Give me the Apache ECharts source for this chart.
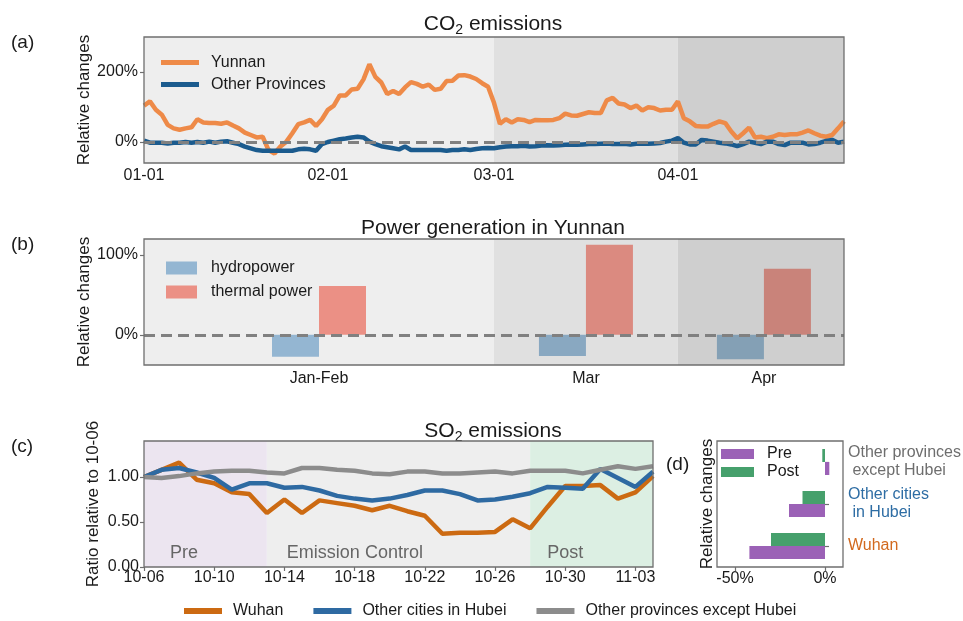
<!DOCTYPE html>
<html><head><meta charset="utf-8">
<script src="https://cdn.jsdelivr.net/npm/echarts@6/dist/echarts.min.js"></script>
<style>html,body{margin:0;padding:0;background:#fff}#c{width:963px;height:621px}</style>
</head><body><div id="c"></div>
<script>
// ---------- Panel (a): CO2 emissions, relative changes (%) by day since 01-01 ----------
const co2TickDays = [0, 31, 59, 90];
const co2TickLabels = ['01-01', '02-01', '03-01', '04-01'];
const co2PhaseBounds = [0, 59, 90, 118];
const co2Yunnan = [104,116,92,78,49,39,35,39,42,65,56,54,54,52,56,47,39,27,20,13,
  15,-23,-33,-13,1,25,51,56,63,46,65,92,104,133,133,150,152,179,222,186,
  170,137,146,137,156,171,166,158,164,149,152,174,175,190,191,187,180,168,158,112,
  52,65,56,65,63,57,63,62,62,63,68,81,76,75,80,85,83,83,119,126,
  110,107,97,104,90,99,97,90,92,92,116,68,59,46,44,44,52,59,54,30,
  11,25,41,13,15,11,15,22,20,22,22,27,33,25,18,15,20,39,59];
const co2Other = [4,-2,-2,-2,-4,-2,-2,0,-2,0,-2,1,-2,1,2,-2,-6,-13,-18,-23,
  -25,-25,-25,-25,-25,-25,-21,-19,-21,-25,-6,0,4,8,10,13,15,13,1,-6,
  -12,-15,-18,-21,-13,-23,-23,-23,-23,-23,-23,-25,-23,-23,-21,-23,-20,-18,-17,-18,
  -15,-13,-12,-12,-11,-13,-12,-10,-9,-10,-9,-8,-7,-8,-7,-6,-6,-5,-4,-6,
  -6,-5,-7,-5,-4,-5,-4,-3,1,4,11,-2,-7,-7,6,4,1,-2,-4,-7,
  -12,-6,1,-2,-6,1,1,-6,-9,-2,-2,-2,-7,-6,-2,3,6,-2,1];

// ---------- Panel (b): power generation in Yunnan (%) ----------
const powerMonths = ['Jan-Feb', 'Mar', 'Apr'];
const powerMonthMid = [29.5, 74.5, 104.5];
const hydroChange = [-27.4, -26.5, -30.6];
const thermalChange = [61, 112.6, 82.7];

// ---------- Panel (c): SO2 emissions ratio relative to 10-06 ----------
const so2Dates = ['10-06','10-07','10-08','10-09','10-10','10-11','10-12','10-13','10-14','10-15',
  '10-16','10-17','10-18','10-19','10-20','10-21','10-22','10-23','10-24','10-25',
  '10-26','10-27','10-28','10-29','10-30','10-31','11-01','11-02','11-03','11-04'];
const so2Wuhan = [1.00,1.08,1.16,0.97,0.93,0.83,0.81,0.60,0.75,0.60,
  0.74,0.71,0.68,0.63,0.68,0.62,0.57,0.37,0.38,0.38,
  0.39,0.53,0.43,0.67,0.90,0.90,0.91,0.76,0.83,1.01];
const so2HubeiOther = [1.00,1.08,1.10,1.05,0.99,0.86,0.93,0.93,0.88,0.89,
  0.85,0.79,0.76,0.74,0.76,0.80,0.85,0.85,0.81,0.74,
  0.75,0.78,0.82,0.89,0.88,0.87,1.09,0.99,0.89,1.06];
const so2OtherProv = [1.00,0.99,1.01,1.04,1.06,1.07,1.07,1.05,1.04,1.10,
  1.10,1.08,1.07,1.04,1.03,1.06,1.06,1.04,1.04,1.05,
  1.06,1.04,1.07,1.07,1.07,1.04,1.08,1.12,1.09,1.12];
const so2PhaseBounds = [0, 7, 22, 29];
const so2PhaseNames = ['Pre', 'Emission Control', 'Post'];

// ---------- Panel (d): relative changes (%) ----------
const dCategories = ['Wuhan', 'Other cities\n in Hubei', 'Other provinces\n except Hubei'];
const dPre = [-42, -20, 2.4];
const dPost = [-30, -12.5, -1.5];

// ---------- styles ----------
const FONT = 'Liberation Sans, Arial, Helvetica, sans-serif';
const TX = '#1a1a1a';
const AX = '#6f6f6f';
const co2BgColors = ['#eeeeee', '#e0e0e0', '#cfcfcf'];
const so2BgColors = ['#ece5f0', '#eeeeee', '#dcefe3'];
const so2LabelOffsets = [21, 15, 12];
const hydroColors = ['#94b6d2', '#89a8c1', '#84a0b5'];
const thermalColors = ['#eb9085', '#db8a80', '#c9837a'];
const dLabelColors = ['#d2691e', '#2e6da4', '#6e6e6e'];

const chart = echarts.init(document.getElementById('c'));

function gridBox(left, top, width, height) {
  return { left, top, width, height, show: true, borderColor: AX, borderWidth: 1.3,
    backgroundColor: 'transparent', z: 10, outerBoundsMode: 'none', containLabel: false };
}
function baseAxis(extra) {
  return Object.assign({
    axisLine: { show: false },
    splitLine: { show: false },
    nameMoveOverlap: false,
    axisTick: { show: true, length: 4, lineStyle: { color: AX, width: 1.2 } },
    axisLabel: { fontSize: 16, color: TX, fontFamily: FONT },
    nameTextStyle: { fontSize: 17, color: TX, fontFamily: FONT }
  }, extra);
}
function phaseAreas(bounds, colors, names, offsets) {
  const out = [];
  for (let i = 0; i < bounds.length - 1; i++) {
    const first = { xAxis: bounds[i], itemStyle: { color: colors[i] } };
    if (names) {
      first.label = { show: true, position: 'insideBottomLeft', distance: 5,
        offset: [offsets[i], 0], formatter: names[i], fontSize: 18, color: '#666', fontFamily: FONT };
    }
    out.push([first, { xAxis: bounds[i + 1] }]);
  }
  return out;
}
const zeroLine = {
  silent: true, symbol: ['none', 'none'], label: { show: false },
  lineStyle: { color: '#808080', width: 2.8, type: [11, 6] },
  data: [{ yAxis: 0 }], animation: false
};
const xy = arr => arr.map((v, i) => [i, v]);

const option = {
  animation: false,
  textStyle: { fontFamily: FONT },
  title: [
    { text: 'CO{sub|2} emissions', left: 493, top: 11, textAlign: 'center', padding: 0,
      textStyle: { fontSize: 21, fontWeight: 'normal', color: TX, fontFamily: FONT, lineHeight: 26,
        rich: { sub: { fontSize: 14, lineHeight: 14, verticalAlign: 'bottom', fontFamily: FONT, color: TX } } } },
    { text: 'Power generation in Yunnan', left: 493, top: 215, textAlign: 'center', padding: 0,
      textStyle: { fontSize: 21, fontWeight: 'normal', color: TX, fontFamily: FONT, lineHeight: 26 } },
    { text: 'SO{sub|2} emissions', left: 493, top: 418, textAlign: 'center', padding: 0,
      textStyle: { fontSize: 21, fontWeight: 'normal', color: TX, fontFamily: FONT, lineHeight: 26,
        rich: { sub: { fontSize: 14, lineHeight: 14, verticalAlign: 'bottom', fontFamily: FONT, color: TX } } } }
  ],
  graphic: [
    { type: 'text', left: 11, top: 33, style: { text: '(a)', fontSize: 19, fill: TX, fontFamily: FONT } },
    { type: 'text', left: 11, top: 235, style: { text: '(b)', fontSize: 19, fill: TX, fontFamily: FONT } },
    { type: 'text', left: 11, top: 437, style: { text: '(c)', fontSize: 19, fill: TX, fontFamily: FONT } },
    { type: 'text', left: 666, top: 455, style: { text: '(d)', fontSize: 19, fill: TX, fontFamily: FONT } }
  ],
  legend: [
    { left: 161, top: 54, orient: 'vertical', padding: 0, itemWidth: 38, itemHeight: 5, itemGap: 5,
      icon: 'rect', data: ['Yunnan', 'Other Provinces'],
      textStyle: { fontSize: 16, color: TX, lineHeight: 17, padding: [0, 0, 0, 7], fontFamily: FONT } },
    { left: 166, top: 259, orient: 'vertical', padding: 0, itemWidth: 31, itemHeight: 13, itemGap: 6,
      icon: 'rect', data: ['hydropower', 'thermal power'],
      textStyle: { fontSize: 16, color: TX, lineHeight: 18, padding: [0, 0, 0, 9], fontFamily: FONT } },
    { left: 184, top: 602, orient: 'horizontal', padding: 0, itemWidth: 38, itemHeight: 6, itemGap: 30,
      icon: 'rect', data: ['Wuhan', 'Other cities in Hubei', 'Other provinces except Hubei'],
      textStyle: { fontSize: 16, color: TX, lineHeight: 18, padding: [0, 0, 0, 6], fontFamily: FONT } },
    { left: 721, top: 446, orient: 'vertical', padding: 0, itemWidth: 33, itemHeight: 10, itemGap: 2,
      icon: 'rect', data: ['Pre', 'Post'],
      textStyle: { fontSize: 16, color: TX, lineHeight: 14, padding: [0, 0, 0, 8], fontFamily: FONT } }
  ],
  grid: [
    gridBox(144, 37, 700, 126),
    gridBox(144, 239, 700, 126),
    gridBox(144, 441, 509, 126),
    gridBox(717, 441, 126, 126)
  ],
  xAxis: [
    baseAxis({ gridIndex: 0, type: 'value', min: 0, max: 118,
      axisTick: { show: true, length: 4, customValues: co2TickDays, lineStyle: { color: AX, width: 1.2 } },
      axisLabel: { customValues: co2TickDays, margin: 5, fontSize: 16, color: TX,
        formatter: v => co2TickLabels[co2TickDays.indexOf(v)] } }),
    baseAxis({ gridIndex: 1, type: 'value', min: 0, max: 118,
      axisTick: { show: true, length: 4, customValues: powerMonthMid, lineStyle: { color: AX, width: 1.2 } },
      axisLabel: { customValues: powerMonthMid, margin: 6, fontSize: 16, color: TX,
        formatter: v => powerMonths[powerMonthMid.indexOf(v)] } }),
    baseAxis({ gridIndex: 2, type: 'value', min: 0, max: 29, interval: 4,
      axisLabel: { margin: 3, fontSize: 16, color: TX, showMaxLabel: false,
        formatter: v => so2Dates[v] } }),
    baseAxis({ gridIndex: 3, type: 'value', min: -60, max: 10,
      axisTick: { show: true, length: 4, customValues: [-50, 0], lineStyle: { color: AX, width: 1.2 } },
      axisLabel: { customValues: [-50, 0], margin: 4, fontSize: 16, color: TX, formatter: v => v + '%' } })
  ],
  yAxis: [
    baseAxis({ gridIndex: 0, type: 'value', min: -60, max: 300,
      name: 'Relative changes', nameLocation: 'middle', nameGap: 51,
      axisTick: { show: true, length: 4, customValues: [0, 200], lineStyle: { color: AX, width: 1.2 } },
      axisLabel: { customValues: [0, 200], margin: 6, fontSize: 16, color: TX, formatter: v => v + '%' } }),
    baseAxis({ gridIndex: 1, type: 'value', min: -37.8, max: 119.8,
      name: 'Relative changes', nameLocation: 'middle', nameGap: 51,
      axisTick: { show: true, length: 4, customValues: [0, 100], lineStyle: { color: AX, width: 1.2 } },
      axisLabel: { customValues: [0, 100], margin: 6, fontSize: 16, color: TX, formatter: v => v + '%' } }),
    baseAxis({ gridIndex: 2, type: 'value', min: 0, max: 1.4, interval: 0.5,
      name: 'Ratio relative to 10-06', nameLocation: 'middle', nameGap: 42,
      axisLabel: { margin: 5, fontSize: 16, color: TX, showMaxLabel: false, formatter: v => v.toFixed(2) } }),
    baseAxis({ gridIndex: 3, type: 'category', data: dCategories, position: 'right',
      axisTick: { show: true, length: 4, alignWithLabel: true, lineStyle: { color: AX, width: 1.2 } },
      axisLabel: { margin: 5, fontSize: 16, lineHeight: 18, align: 'left',
        color: (v, i) => dLabelColors[i] } }),
    baseAxis({ gridIndex: 3, type: 'category', data: dCategories, position: 'left',
      name: 'Relative changes', nameLocation: 'middle', nameGap: 1,
      axisTick: { show: false }, axisLabel: { show: false } })
  ],
  series: [
    { name: 'Yunnan', type: 'line', xAxisIndex: 0, yAxisIndex: 0, data: xy(co2Yunnan),
      color: '#ee8a48', symbol: 'none', lineStyle: { width: 4.5, color: '#ee8a48' },
      markArea: { silent: true, data: phaseAreas(co2PhaseBounds, co2BgColors) } },
    { name: 'Other Provinces', type: 'line', xAxisIndex: 0, yAxisIndex: 0, data: xy(co2Other),
      color: '#1b5b8e', symbol: 'none', lineStyle: { width: 4.5, color: '#1b5b8e' },
      markLine: zeroLine },
    { name: 'hydropower', type: 'bar', xAxisIndex: 1, yAxisIndex: 1, barWidth: 47, barGap: '0%',
      color: hydroColors[0], itemStyle: { color: hydroColors[0] },
      data: powerMonthMid.map((x, i) => ({ value: [x, hydroChange[i]], itemStyle: { color: hydroColors[i] } })),
      markArea: { silent: true, data: phaseAreas(co2PhaseBounds, co2BgColors) } },
    { name: 'thermal power', type: 'bar', xAxisIndex: 1, yAxisIndex: 1, barWidth: 47, barGap: '0%',
      color: thermalColors[0], itemStyle: { color: thermalColors[0] },
      data: powerMonthMid.map((x, i) => ({ value: [x, thermalChange[i]], itemStyle: { color: thermalColors[i] } })),
      markLine: zeroLine },
    { name: 'Wuhan', type: 'line', xAxisIndex: 2, yAxisIndex: 2, data: xy(so2Wuhan),
      color: '#cc6a12', symbol: 'none', lineStyle: { width: 4.5, color: '#cc6a12' },
      markArea: { silent: true, data: phaseAreas(so2PhaseBounds, so2BgColors, so2PhaseNames, so2LabelOffsets) } },
    { name: 'Other cities in Hubei', type: 'line', xAxisIndex: 2, yAxisIndex: 2, data: xy(so2HubeiOther),
      color: '#2e6aa2', symbol: 'none', lineStyle: { width: 4.5, color: '#2e6aa2' } },
    { name: 'Other provinces except Hubei', type: 'line', xAxisIndex: 2, yAxisIndex: 2, data: xy(so2OtherProv),
      color: '#8c8c8c', symbol: 'none', lineStyle: { width: 4.5, color: '#8c8c8c' } },
    { name: 'Post', type: 'bar', xAxisIndex: 3, yAxisIndex: 3, barWidth: 13, barGap: '0%',
      color: '#46a06c', itemStyle: { color: '#46a06c' }, data: dPost },
    { name: 'Pre', type: 'bar', xAxisIndex: 3, yAxisIndex: 3, barWidth: 13, barGap: '0%',
      color: '#9b61b6', itemStyle: { color: '#9b61b6' }, data: dPre }
  ]
};
chart.setOption(option);
</script></body></html>
